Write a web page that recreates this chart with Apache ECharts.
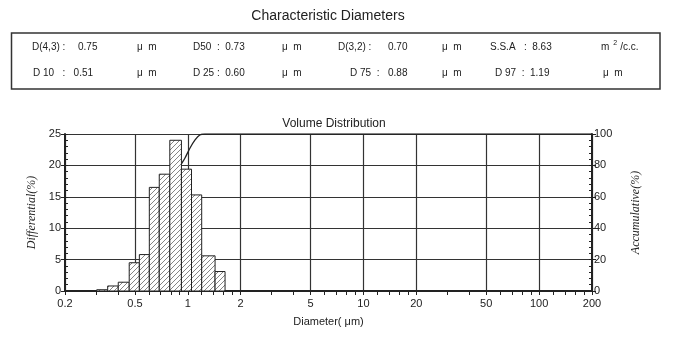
<!DOCTYPE html>
<html><head><meta charset="utf-8">
<script src="https://cdn.jsdelivr.net/npm/echarts@6/dist/echarts.min.js"></script>
<style>html,body{margin:0;padding:0;background:#fff}#c{width:675px;height:354px}</style>
</head><body><div id="c"></div>
<script>
// ---- data ----
const binLower = [0.303, 0.350, 0.402, 0.464, 0.530, 0.604, 0.688, 0.790, 0.920, 1.050, 1.200, 1.430];
const binUpper = [0.350, 0.402, 0.464, 0.530, 0.604, 0.688, 0.790, 0.920, 1.050, 1.200, 1.430, 1.630];
const differential = [0.2, 0.8, 1.4, 4.5, 5.8, 16.5, 18.6, 24.0, 19.4, 15.3, 5.6, 3.1];
const cumDiameter = [0.30, 0.35, 0.40, 0.46, 0.53, 0.60, 0.69, 0.79, 0.88, 0.914, 0.964, 1.03, 1.10, 1.17, 1.25, 1.4, 2, 200];
const cumValue    = [0,    0.3,  1.0,  3.0,  8.0,  22,   44,   62,   75,   80.3,  84.7,  91.1, 96.2, 99.4, 100, 100, 100, 100];
const xMajorTicks = [0.2, 0.5, 1, 2, 5, 10, 20, 50, 100, 200];
const xAllTicks = [0.2,0.3,0.4,0.5,0.6,0.7,0.8,0.9,1,1.2,1.4,1.6,1.8,2,3,4,5,6,7,8,9,10,12,14,16,18,20,30,40,50,60,70,80,90,100,120,140,160,180,200];
const tableRow1 = ['D(4,3) :', '0.75', 'μ  m', 'D50  :  0.73', 'μ  m', 'D(3,2) :', '0.70', 'μ  m', 'S.S.A   :  8.63', 'm2'];
const tableRow2 = ['D 10   :   0.51', 'μ  m', 'D 25 :  0.60', 'μ  m', 'D 75  :', '0.88', 'μ  m', 'D 97  :  1.19', 'μ  m'];

// hatch pattern
const pc = document.createElement('canvas');
pc.width = 5; pc.height = 5;
const g = pc.getContext('2d');
g.fillStyle = '#fff'; g.fillRect(0,0,5,5);
g.strokeStyle = '#666'; g.lineWidth = 0.8;
g.beginPath(); g.moveTo(-1,6); g.lineTo(6,-1); g.moveTo(-1,1); g.lineTo(1,-1); g.moveTo(4,6); g.lineTo(6,4); g.stroke();
const hatch = { image: pc, repeat: 'repeat' };

const chart = echarts.init(document.getElementById('c'), null, {renderer: 'canvas'});
const F = 'Arial, "Liberation Sans", sans-serif';
const SERIF = '"Liberation Serif", "DejaVu Serif", serif';

// table graphics
const colX1 = [32, 78, 137, 193, 282, 338, 388, 442, 490, 601];
const colX2 = [33, 137, 193, 282, 350, 388, 442, 495, 603];
const tableEls = [];
function addRow(row, cols, y) {
  row.forEach((t, i) => {
    if (t === 'm2') {
      tableEls.push({type: 'text', x: cols[i], y: y, style: {
        text: '{a|m}{s|2}{a|/c.c.}', verticalAlign: 'middle',
        rich: {a: {fontSize: 10, fontFamily: F, fill: '#222'}, s: {fontSize: 7, fontFamily: F, fill: '#222', padding: [0, 3, 8, 4]}}}});
    } else {
      tableEls.push({type: 'text', x: cols[i], y: y, style: {text: t, fontSize: 10, fontFamily: F, fill: '#222', verticalAlign: 'middle'}});
    }
  });
}
addRow(tableRow1, colX1, 47);
addRow(tableRow2, colX2, 73);

chart.setOption({
  animation: false,
  backgroundColor: '#fff',
  title: [
    {text: 'Characteristic Diameters', left: 323, textAlign: 'center', top: 4, textStyle: {fontSize: 14, fontWeight: 'normal', fontFamily: F, color: '#222'}},
    {text: 'Volume Distribution', left: 329, textAlign: 'center', top: 113, textStyle: {fontSize: 12, fontWeight: 'normal', fontFamily: F, color: '#222'}}
  ],
  graphic: [
    {type: 'rect', shape: {x: 11.5, y: 33, width: 648.5, height: 56}, style: {fill: 'none', stroke: '#333', lineWidth: 1.5}},
    ...tableEls
  ],
  grid: {left: 65, right: 83, top: 134, bottom: 63},
  xAxis: [
    {type: 'log', logBase: 10, min: 0.2, max: 200,
     name: 'Diameter( μm)', nameLocation: 'middle', nameGap: 25,
     nameTextStyle: {fontSize: 11, fontFamily: F, color: '#222'},
     axisLine: {show: true, lineStyle: {color: '#222', width: 2}},
     axisTick: {show: true, customValues: xAllTicks, length: 4, lineStyle: {color: '#222', width: 1}},
     axisLabel: {customValues: xMajorTicks, fontSize: 11, fontFamily: F, color: '#222', margin: 7},
     splitLine: {show: false}, minorTick: {show: false}},
    {type: 'log', logBase: 10, min: 0.2, max: 200, position: 'bottom',
     axisLine: {show: false}, axisLabel: {show: false, customValues: xMajorTicks},
     axisTick: {show: false, customValues: xMajorTicks},
     splitLine: {show: true, lineStyle: {color: '#333', width: 1.2}}}
  ],
  yAxis: [
    {type: 'value', min: 0, max: 25, interval: 5, position: 'left',
     name: 'Differential(%)', nameLocation: 'middle', nameGap: 26, nameRotate: 90,
     nameTextStyle: {fontSize: 12, fontFamily: SERIF, fontStyle: 'italic', color: '#222'},
     axisLine: {show: true, lineStyle: {color: '#222', width: 2}},
     axisTick: {show: true, length: 4, lineStyle: {color: '#222'}},
     axisLabel: {fontSize: 11, fontFamily: F, color: '#222', margin: 4},
     splitLine: {show: true, lineStyle: {color: '#333', width: 1.2}}},
    {type: 'value', min: 0, max: 100, interval: 20, position: 'right',
     name: 'Accumulative(%)', nameLocation: 'middle', nameGap: 38, nameRotate: 90,
     nameTextStyle: {fontSize: 12, fontFamily: SERIF, fontStyle: 'italic', color: '#222'},
     axisLine: {show: true, lineStyle: {color: '#222', width: 2}},
     axisTick: {show: true, length: 4, lineStyle: {color: '#222'}},
     axisLabel: {fontSize: 11, fontFamily: F, color: '#222', margin: 2},
     splitLine: {show: false}},
    {type: 'value', min: 0, max: 25, interval: 1, position: 'left',
     axisLine: {show: false}, axisLabel: {show: false}, splitLine: {show: false},
     axisTick: {show: true, inside: true, length: 3, lineStyle: {color: '#222'}}},
    {type: 'value', min: 0, max: 100, interval: 4, position: 'right',
     axisLine: {show: false}, axisLabel: {show: false}, splitLine: {show: false},
     axisTick: {show: true, inside: true, length: 3, lineStyle: {color: '#222'}}}
  ],
  series: [
    {type: 'line', xAxisIndex: 0, yAxisIndex: 1, z: 1, smooth: 0.3, symbol: 'none',
     lineStyle: {color: '#222', width: 1.3},
     data: cumDiameter.map((d, i) => [d, cumValue[i]])},
    {type: 'custom', xAxisIndex: 0, yAxisIndex: 0, z: 5,
     data: binLower.map((lo, i) => [lo, binUpper[i], differential[i]]),
     encode: {x: [0, 1], y: 2},
     renderItem: function (params, api) {
       const p1 = api.coord([api.value(0), api.value(2)]);
       const p2 = api.coord([api.value(1), 0]);
       return {type: 'rect', shape: {x: p1[0], y: p1[1], width: p2[0] - p1[0], height: p2[1] - p1[1]},
               style: {fill: hatch, stroke: '#222', lineWidth: 1}};
     }}
  ]
});
</script></body></html>
